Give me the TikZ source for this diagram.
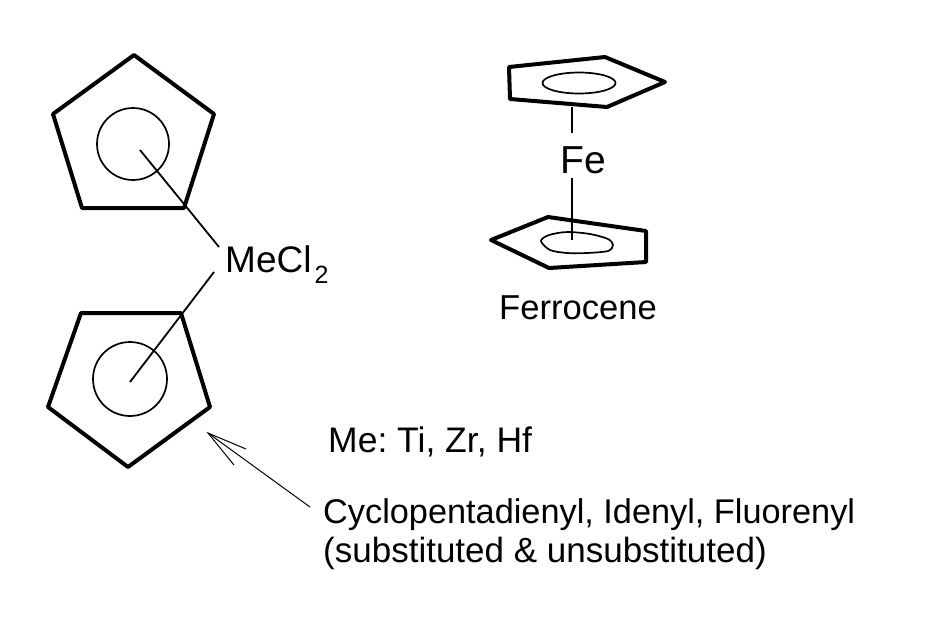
\documentclass[tikz,border=0pt]{standalone}
\usepackage{fontspec}
\setmainfont{Liberation Sans}
\usetikzlibrary{shapes.geometric}
\frenchspacing
\tikzset{
  ring/.style={line width=4pt,line join=round,draw=black},
  thin ring/.style={line width=1.7pt,draw=black},
  bondline/.style={line width=1.8pt,draw=black},
  hairline/.style={line width=1pt,draw=black},
  lbl/.style={anchor=base west,inner sep=0pt,font=\fontsize{#1}{#1}\selectfont},
}
\begin{document}
\begin{tikzpicture}[x=1pt,y=-1pt]
\useasboundingbox (0,0) rectangle (925,641);
% left rings
\draw[ring] (134,55) -- (214,114) -- (184,208) -- (82,208) -- (53,114) -- cycle;
\draw[ring] (81,313) -- (181,313) -- (210,407) -- (128,467) -- (48,407) -- cycle;
\node[thin ring,circle,minimum size=72pt,inner sep=0pt] (c1) at (133,144) {};
\node[thin ring,circle,minimum size=74pt,inner sep=0pt] (c2) at (130,379) {};
% ferrocene rings
\draw[ring] (509,67) -- (605,57) -- (665,82) -- (607,107) -- (510,99) -- cycle;
\draw[ring] (491,240) -- (548,217) -- (646,231) -- (646,262) -- (549,268) -- cycle;
\node[thin ring,ellipse,minimum width=73pt,minimum height=21pt,inner sep=0pt] (e1) at (579,83) {};
\draw[thin ring] plot[smooth cycle] coordinates {(541,241) (549,235) (567,232) (590,234) (608,239) (613,245) (608,251) (587,253) (567,253) (550,250)};
% labels
\node[lbl=37] (mecl) at (225,272.5) {MeCl};
\node[lbl=25] (sub2) at (314.5,283) {2};
\node[lbl=39] (fe) at (560,173.5) {Fe};
\node[lbl=34.6] (ferrocene) at (499,319.5) {Ferrocene};
\node[lbl=35.5] (me) at (328,452.5) {Me: Ti, Zr, Hf};
\node[lbl=34.3] (cp) at (323,523) {Cyclopentadienyl, Idenyl, Fluorenyl};
\node[lbl=35] (sub) at (323,562.5) {(substituted \& unsubstituted)};
% connectors
\coordinate (b1a) at (140,150); \coordinate (b1b) at (219,247);
\coordinate (b2a) at (130,382); \coordinate (b2b) at (214,272);
\coordinate (f1a) at (572,107); \coordinate (f1b) at (572,133);
\coordinate (f2a) at (572,178); \coordinate (f2b) at (572,240);
\draw[bondline] (b1a) -- (b1b);
\draw[bondline] (b2a) -- (b2b);
\draw[bondline] (f1a) -- (f1b);
\draw[bondline] (f2a) -- (f2b);
% arrow
\coordinate (tip) at (208,433); \coordinate (tail) at (310,507);
\coordinate (barb1) at (246,449); \coordinate (barb2) at (234,465);
\draw[hairline] (tail) -- (tip);
\draw[hairline] (barb1) -- (tip) -- (barb2);
\end{tikzpicture}
\end{document}
